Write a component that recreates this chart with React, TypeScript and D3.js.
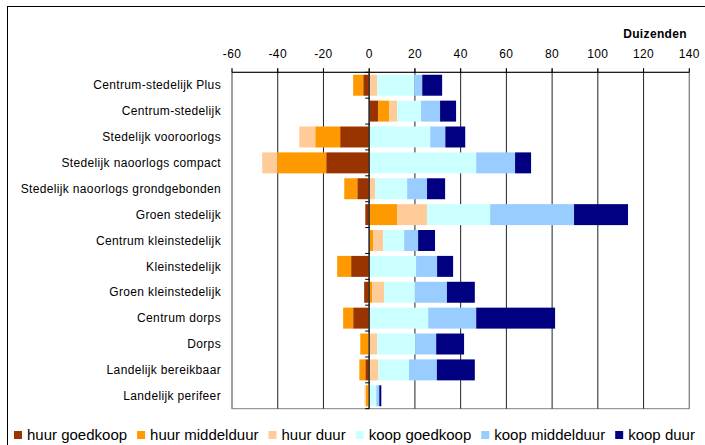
import React from "react";
import * as d3 from "d3";

const categories = [
  "Centrum-stedelijk Plus",
  "Centrum-stedelijk",
  "Stedelijk vooroorlogs",
  "Stedelijk naoorlogs compact",
  "Stedelijk naoorlogs grondgebonden",
  "Groen stedelijk",
  "Centrum kleinstedelijk",
  "Kleinstedelijk",
  "Groen kleinstedelijk",
  "Centrum dorps",
  "Dorps",
  "Landelijk bereikbaar",
  "Landelijk perifeer",
];

const seriesNames = [
  "huur goedkoop",
  "huur middelduur",
  "huur duur",
  "koop goedkoop",
  "koop middelduur",
  "koop duur",
];

const huurGoedkoop = [-2.6, 3.9, -12.7, -18.8, -5.2, -1.7, 0, -7.9, -2.2, -7.0, 0, -1.7, 0];
const huurMiddelduur = [-4.4, 4.8, -10.9, -21.4, -5.7, 12.2, 1.7, -6.1, 1.3, -4.4, -3.9, -2.6, -1.5];
const huurDuur = [3.5, 3.5, -7.0, -6.6, 2.6, 13.1, 4.4, 0, 5.2, 0, 3.5, 3.9, -0.5];
const koopGoedkoop = [16.2, 10.5, 26.7, 46.8, 14.0, 27.6, 9.2, 20.5, 13.5, 25.8, 16.6, 13.5, 3.1];
const koopMiddelduur = [3.5, 8.3, 6.6, 17.0, 8.7, 36.7, 6.1, 9.2, 14.0, 21.0, 9.2, 12.2, 1.3];
const koopDuur = [8.7, 7.0, 8.7, 7.0, 7.9, 23.6, 7.4, 7.0, 12.2, 34.5, 12.2, 16.6, 0.9];

const xTicks = [-60, -40, -20, 0, 20, 40, 60, 80, 100, 120, 140];
const colors = ["#993300", "#FF9900", "#FFCC99", "#CCFFFF", "#99CCFF", "#000080"];
const unitLabel = "Duizenden";

const FONT = "'Liberation Sans', Arial, sans-serif";

function measure(text: string, size: number, weight = "normal") {
  const c = document.createElement("canvas").getContext("2d");
  if (!c) return text.length * size * 0.5;
  c.font = `${weight} ${size}px ${FONT}`;
  return c.measureText(text).width;
}

export default function App() {
  const W = 705;
  const H = 445;
  const left = 232;
  const right = 689.3;
  const top = 72.3;
  const bottom = 408.7;

  const x = d3.scaleLinear().domain([-60, 140]).range([left, right]);
  const y = d3
    .scaleBand<string>()
    .domain(categories)
    .range([top, bottom])
    .paddingInner(0.19)
    .paddingOuter(0.095);

  const allSeries = [huurGoedkoop, huurMiddelduur, huurDuur, koopGoedkoop, koopMiddelduur, koopDuur];
  const rows = categories.map((c, i) => {
    const r: any = { cat: c };
    seriesNames.forEach((s, j) => (r[s] = allSeries[j][i]));
    return r;
  });
  const stacked = d3
    .stack<any>()
    .keys(seriesNames)
    .offset(d3.stackOffsetDiverging)(rows);

  const step = (bottom - top) / categories.length;
  const fs = 12;
  const ls = 0.35;

  // legend layout
  const legendFs = 15;
  const sq = 8;
  const sqToText = 13;
  const itemGap = 10;
  const widths = seriesNames.map((s) => measure(s, legendFs));
  let lx = 14;
  const legendItems = seriesNames.map((s, i) => {
    const item = { s, x: lx, color: colors[i] };
    lx += sqToText + widths[i] + itemGap;
    return item;
  });

  return (
    <svg
      width={W}
      height={H}
      style={{ position: "absolute", left: 0, top: 0, background: "#fff" }}
      fontFamily={FONT}
    >
      <rect x={7.5} y={6.5} width={W + 10} height={H + 10} fill="#fff" stroke="#000" strokeWidth={1} />

      {/* plot area border */}
      <rect x={left} y={top} width={right - left} height={bottom - top} fill="none" stroke="#808080" strokeWidth={1} />

      {/* gridlines */}
      {xTicks.map((t) => (
        <line key={"g" + t} x1={x(t)} x2={x(t)} y1={top - 4} y2={bottom} stroke={t === -60 || t === 140 ? "#808080" : "#222"} strokeWidth={1} />
      ))}
      {xTicks.map((t) => (
        <line key={"tk" + t} x1={x(t)} x2={x(t)} y1={top - 4} y2={top} stroke="#000" strokeWidth={1} />
      ))}

      {/* bars */}
      {stacked.map((layer, i) => (
        <g key={layer.key} fill={colors[i]}>
          {layer.map((d, j) => {
            const x0 = x(Math.min(d[0], d[1]));
            const x1 = x(Math.max(d[0], d[1]));
            if (x1 - x0 <= 0) return null;
            return (
              <rect key={j} x={x0} y={y(categories[j])!} width={x1 - x0} height={y.bandwidth()} />
            );
          })}
        </g>
      ))}

      {/* top axis line */}
      <line x1={left} x2={right} y1={top} y2={top} stroke="#000" strokeWidth={1} />

      {/* zero category axis */}
      <line x1={x(0)} x2={x(0)} y1={top} y2={bottom} stroke="#333" strokeWidth={1.5} />
      {d3.range(categories.length + 1).map((i) => (
        <line key={"ct" + i} x1={x(0) - 4} x2={x(0)} y1={top + i * step} y2={top + i * step} stroke="#000" strokeWidth={1} />
      ))}

      {/* x tick labels */}
      {xTicks.map((t) => (
        <text key={"tl" + t} x={x(t)} y={58} textAnchor="middle" fontSize={fs} letterSpacing={ls} fill="#000">
          {t}
        </text>
      ))}
      <text x={687} y={38} textAnchor="end" fontSize={fs} fontWeight="bold" letterSpacing={ls} fill="#000">
        {unitLabel}
      </text>

      {/* category labels */}
      {categories.map((c) => (
        <text key={c} x={221} y={y(c)! + y.bandwidth() / 2} dy="0.35em" textAnchor="end" fontSize={fs} letterSpacing={ls} fill="#000">
          {c}
        </text>
      ))}

      {/* legend */}
      {legendItems.map((it) => (
        <g key={it.s}>
          <rect x={it.x} y={431} width={sq} height={sq} fill={it.color} />
          <text x={it.x + sqToText} y={439.5} fontSize={legendFs} fill="#000">
            {it.s}
          </text>
        </g>
      ))}
    </svg>
  );
}
